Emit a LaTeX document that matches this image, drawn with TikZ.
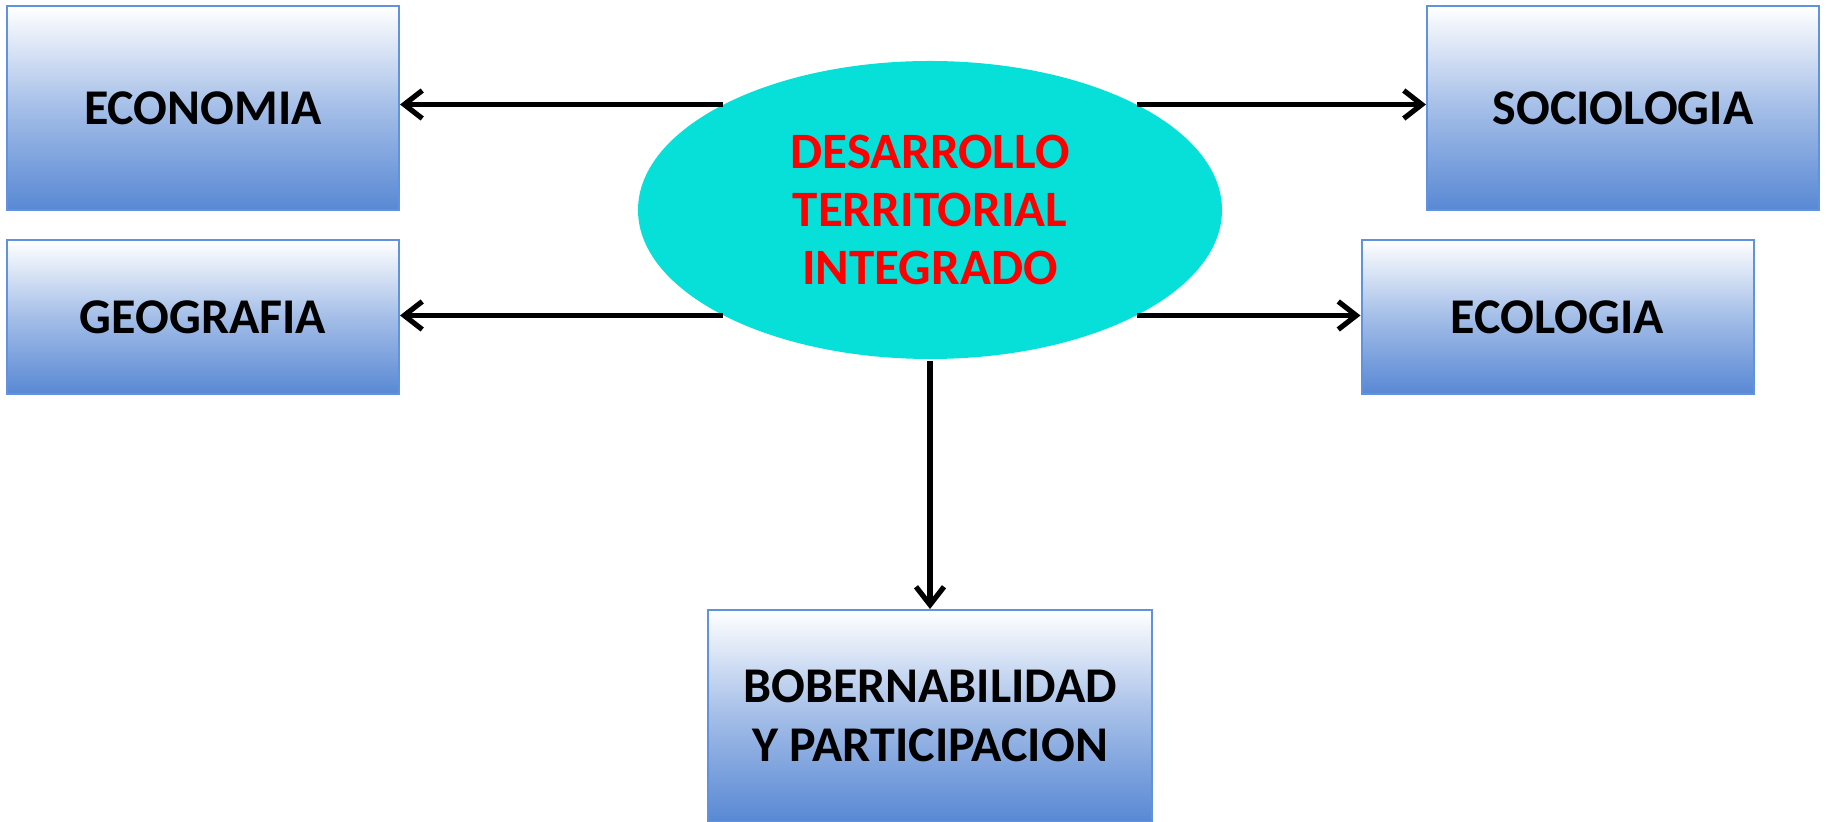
\documentclass[tikz,border=0pt]{standalone}
\usepackage{fontspec}
\setmainfont{Carlito}
\usepackage{xcolor}
\usetikzlibrary{shapes.geometric, arrows.meta, positioning, calc}

\definecolor{boxblue}{RGB}{88,136,212}
\definecolor{boxedge}{RGB}{96,146,224}
\definecolor{corecyan}{RGB}{6,224,216}

\begin{document}
\begin{tikzpicture}[
    x=0.5pt, y=-0.5pt,
    >={Straight Barb[length=9pt, width=14pt]},
    % Styles
    area/.style={draw=boxedge, line width=1pt, top color=white, bottom color=boxblue,
        middle color=boxblue!55!white, minimum width=#1, minimum height=102pt,
        inner sep=0pt, align=center, font=\fontsize{25}{29.5}\selectfont\bfseries},
    core/.style={ellipse, fill=corecyan, minimum width=292pt, minimum height=149pt,
        inner sep=0pt, align=center, text=red, font=\fontsize{25.5}{29}\selectfont\bfseries},
    arrow/.style={->, line width=2.6pt, color=black},
]
\useasboundingbox (0,0) rectangle (1826,822);

% ── Centre ──
\node[core] (dti) at (930,210) {DESARROLLO\\TERRITORIAL\\INTEGRADO};

% ── Left side ──
\node[area=196pt] (economia) at (203,108.5) {ECONOMIA};
\node[area=196pt, minimum height=77pt, below=14pt of economia] (geografia) {GEOGRAFIA};

% ── Right side ──
\node[area=196pt] (sociologia) at (1623,108.5) {SOCIOLOGIA};
\node[area=196pt, minimum height=77pt] (ecologia) at (1557.5,317) {ECOLOGIA};

% ── Bottom ──
\node[area=222pt, minimum height=106pt] (gobernab) at (930,716) {BOBERNABILIDAD\\Y PARTICIPACION};

% ── Connectors ──
\draw[arrow] (dti.153) -- (dti.153 -| economia.east);
\draw[arrow] (dti.207) -- (dti.207 -| geografia.east);
\draw[arrow] (dti.27) -- (dti.27 -| sociologia.west);
\draw[arrow] (dti.333) -- (dti.333 -| ecologia.west);
\draw[arrow] ([yshift=-1pt]dti.south) -- (gobernab.north);

\end{tikzpicture}
\end{document}
